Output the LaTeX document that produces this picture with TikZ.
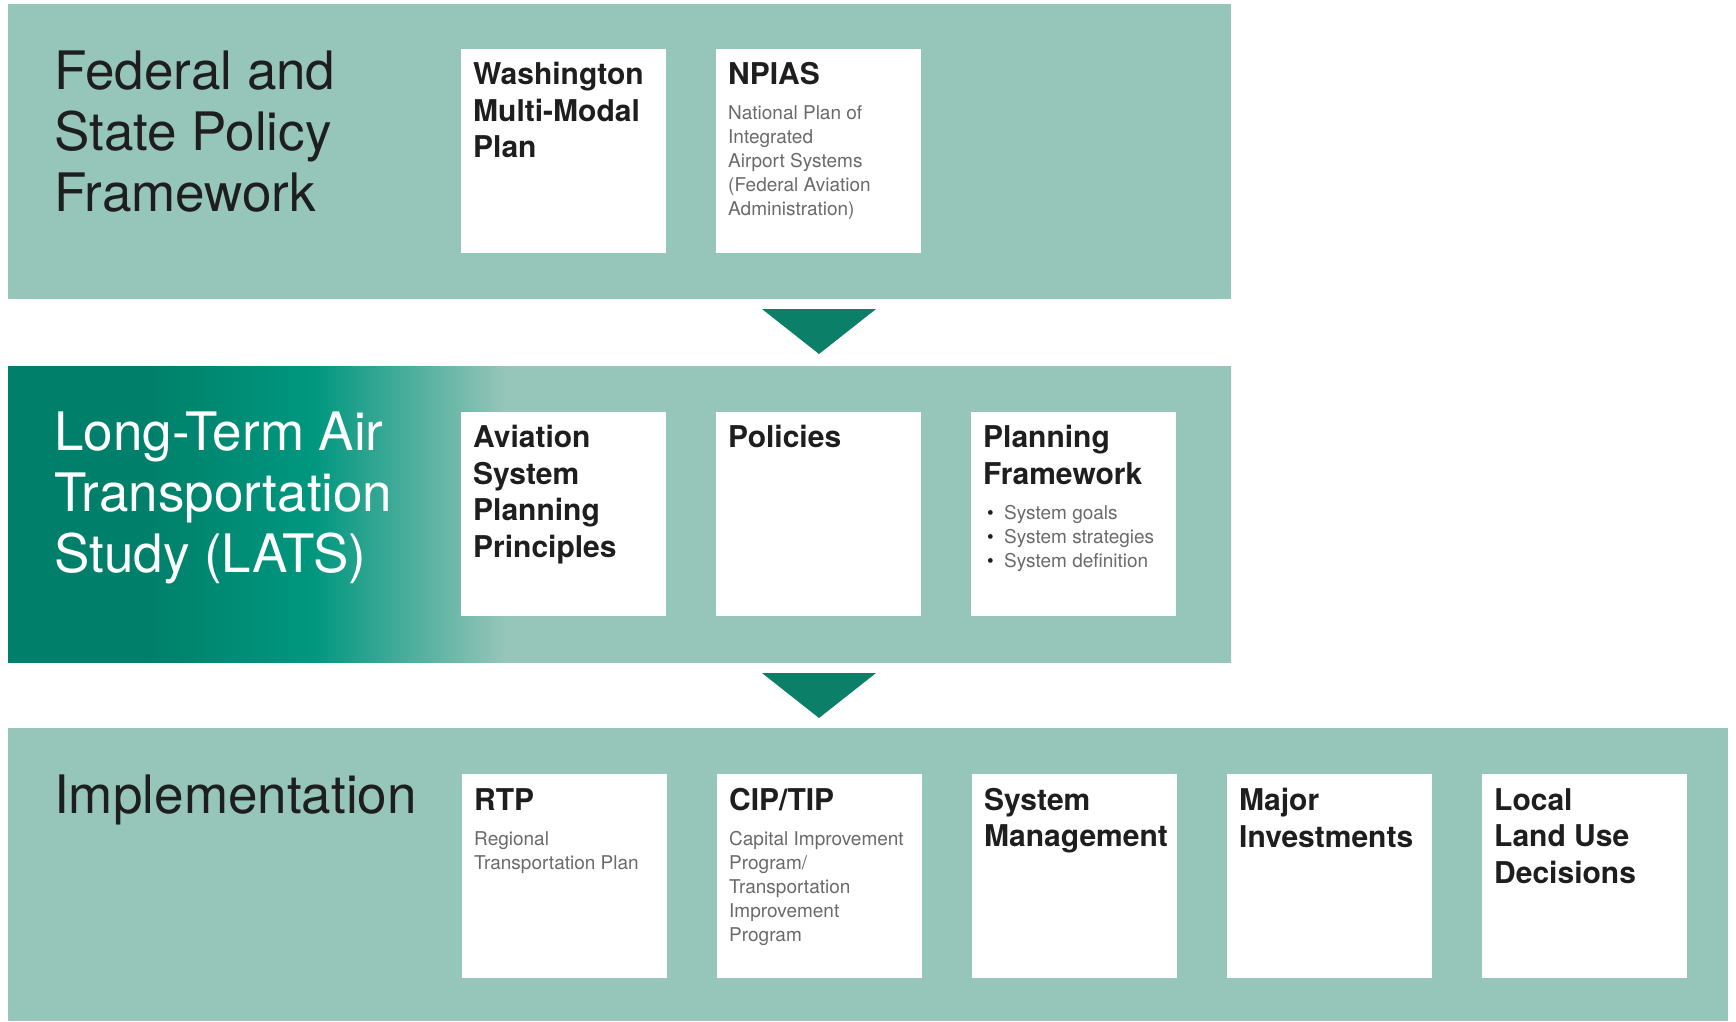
\documentclass[tikz,border=0pt]{standalone}
\usepackage{fontspec}
\setmainfont{TeX Gyre Heros}
\definecolor{lt}{HTML}{96C5B9}
\definecolor{dk}{HTML}{00806A}
\definecolor{md}{HTML}{00977F}
\definecolor{tri}{HTML}{0B7F68}
\definecolor{sm}{HTML}{6A6A6A}
\definecolor{ink}{HTML}{1E1E1E}
\pgfdeclarehorizontalshading{latsshade}{100bp}{color(0bp)=(dk); color(30.8bp)=(dk); color(37.5bp)=(md); color(45.3bp)=(lt); color(100bp)=(lt)}
\tikzset{
  wbox/.style={draw=none,fill=white,minimum width=205pt,minimum height=204pt,inner sep=0pt,anchor=north west},
  btitle/.style={anchor=north west,inner sep=0pt,align=left,text=ink,font=\fontsize{30}{36.5}\selectfont\bfseries},
  stext/.style={anchor=north west,inner sep=0pt,align=left,text=sm,font=\fontsize{19}{24}\selectfont},
  bigtitle/.style={anchor=north west,inner sep=0pt,align=left,font=\fontsize{53}{61}\selectfont},
}
\newcommand{\bul}{\makebox[17pt][l]{\textcolor{ink}{\textbullet}}}
\begin{document}
\begin{tikzpicture}[x=1pt,y=-1pt]
\useasboundingbox (0,0) rectangle (1736,1021);
\fill[white] (0,0) rectangle (1736,1021);
% bands
\fill[lt] (8,4) rectangle (1231,299);
\shade[shading=latsshade] (8,366) rectangle (1231,662);
\fill[lt] (8,728) rectangle (1728,1021);
% arrows
\fill[tri] (762,309) -- (876,309) -- (819,354) -- cycle;
\fill[tri] (762,673) -- (876,673) -- (819,718) -- cycle;
% titles
\node[bigtitle,text=ink] (h1) at (54,51) {Federal and\\State Policy\\Framework};
\node[bigtitle,text=white] (h2) at (54,412) {Long-Term Air\\Transportation\\Study (LATS)};
\node[bigtitle,text=ink] (h3) at (54,775) {Implementation};
% row 1
\node[wbox] (b11) at (461,49) {};
\node[wbox] (b12) at (716,49) {};
\node[btitle] (t11) at ([xshift=12pt,yshift=-13pt]b11.north west) {Washington\\Multi-Modal\\Plan};
\node[btitle] (t12) at ([xshift=12pt,yshift=-13pt]b12.north west) {NPIAS};
\node[stext] (s12) at ([xshift=12pt,yshift=-56pt]b12.north west) {National Plan of\\Integrated\\Airport Systems\\(Federal Aviation\\Administration)};
% row 2
\node[wbox] (b21) at (461,412) {};
\node[wbox] (b22) at (716,412) {};
\node[wbox] (b23) at (971,412) {};
\node[btitle] (t21) at ([xshift=12pt,yshift=-13pt]b21.north west) {Aviation\\System\\Planning\\Principles};
\node[btitle] (t22) at ([xshift=12pt,yshift=-13pt]b22.north west) {Policies};
\node[btitle] (t23) at ([xshift=12pt,yshift=-13pt]b23.north west) {Planning\\Framework};
\node[stext] (s23) at ([xshift=16pt,yshift=-93pt]b23.north west) {\bul System goals\\\bul System strategies\\\bul System definition};
% row 3
\node[wbox] (b31) at (462,774) {};
\node[wbox] (b32) at (717,774) {};
\node[wbox] (b33) at (972,774) {};
\node[wbox] (b34) at (1227,774) {};
\node[wbox] (b35) at (1482,774) {};
\node[btitle] (t31) at ([xshift=12pt,yshift=-14pt]b31.north west) {RTP};
\node[stext] (s31) at ([xshift=12pt,yshift=-57pt]b31.north west) {Regional\\Transportation Plan};
\node[btitle] (t32) at ([xshift=12pt,yshift=-14pt]b32.north west) {CIP/TIP};
\node[stext] (s32) at ([xshift=12pt,yshift=-57pt]b32.north west) {Capital Improvement\\Program/\\Transportation\\Improvement\\Program};
\node[btitle] (t33) at ([xshift=12pt,yshift=-14pt]b33.north west) {System\\Management};
\node[btitle] (t34) at ([xshift=12pt,yshift=-14pt]b34.north west) {Major\\Investments};
\node[btitle] (t35) at ([xshift=12pt,yshift=-14pt]b35.north west) {Local\\Land Use\\Decisions};
\end{tikzpicture}
\end{document}
